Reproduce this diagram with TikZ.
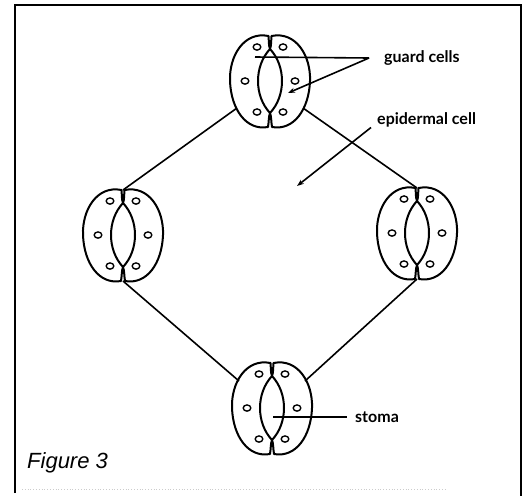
\documentclass[tikz,border=0pt]{standalone}
\usepackage{fontspec}
\setmainfont{Liberation Sans}
\newfontfamily\stomatalabelfont{Lato}
\usetikzlibrary{arrows.meta}
\newlength{\basisstomatalayout}
\setlength{\basisstomatalayout}{1pt}

\tikzset{
	stoma/.pic={
		\foreach \s in {1,-1} {
			\draw[line width=2pt, line join=round, xscale=\s]
				(-1.5,-45) .. controls (-26,-50) and (-41,-25) .. (-40,0)
				.. controls (-39,28) and (-24,50) .. (-2,46)
				.. controls (-1,40) and (-1.5,36) .. (0,32)
				.. controls (-16,15) and (-16,-15) .. (0,-32)
				.. controls (-1.5,-36) and (-1,-40) .. cycle;
			\foreach \p in {(-13,-34),(-25,0),(-13,31)}
				\draw[line width=1.4pt, xscale=\s] \p ellipse (3.8 and 3.1);
		}
		\coordinate (-n) at (0,-45);
		\coordinate (-s) at (0,46);
		\coordinate (-ul) at (-33,-27);
		\coordinate (-ur) at (33,-27);
		\coordinate (-ll) at (-33,27);
		\coordinate (-lr) at (33,27);
		\coordinate (-left-cell) at (-15,-24);
		\coordinate (-right-cell) at (18,12);
		\coordinate (-pore) at (1,9);
	},
	connector/.style={line width=1.6pt},
	label-text/.style={font=\stomatalabelfont\bfseries\fontsize{16}{19}\selectfont, inner sep=2pt},
	pointer/.style={line width=1.6pt, -{Stealth[length=7pt, width=5pt]}}
}

\begin{document}
\begin{tikzpicture}[x=\basisstomatalayout, y=-\basisstomatalayout]
	\useasboundingbox (0,0) rectangle (527,496);

	\draw[line width=2.6pt] (15,493) -- (15,5) -- (521,5) -- (521,496);
	\draw[gray!40, dotted, line width=0.8pt] (22,489) -- (445,489);

	\pic (stoma-top) at (270,81) {stoma};
	\pic (stoma-left) at (123,235) {stoma};
	\pic (stoma-right) at (417,233) {stoma};
	\pic (stoma-bottom) at (272,408) {stoma};

	\draw[connector] (stoma-top-ll) -- (stoma-left-n);
	\draw[connector] (stoma-top-lr) -- (stoma-right-n);
	\draw[connector] (stoma-left-s) -- (stoma-bottom-ul);
	\draw[connector] (stoma-right-s) -- (stoma-bottom-ur);

	\draw (382,58) 
		node[label-text, anchor=west] 
			(guard-cells-label) {guard cells};

	\draw (375,120) 
		node[label-text, anchor=west] 
			(epidermal-cell-label) {epidermal cell};

	\draw (353,417) 
		node[label-text, anchor=west] 
			(stoma-label) {stoma};

	\draw (27,463) 
		node[anchor=west, inner sep=0pt, font=\itshape\fontsize{22}{26}\selectfont] 
			(figure-label) {Figure 3};

	\coordinate (epidermal-cell-point) at (297,186);

	\draw[connector] ([xshift=-13pt]guard-cells-label.west) -- (stoma-top-left-cell);
	\draw[pointer] ([xshift=-13pt]guard-cells-label.west) -- (stoma-top-right-cell);
	\draw[pointer] ([xshift=-4pt, yshift=2pt]epidermal-cell-label.south west) -- (epidermal-cell-point);
	\draw[connector] (stoma-bottom-pore) -- ([xshift=-6pt]stoma-label.west);
\end{tikzpicture}
\end{document}
